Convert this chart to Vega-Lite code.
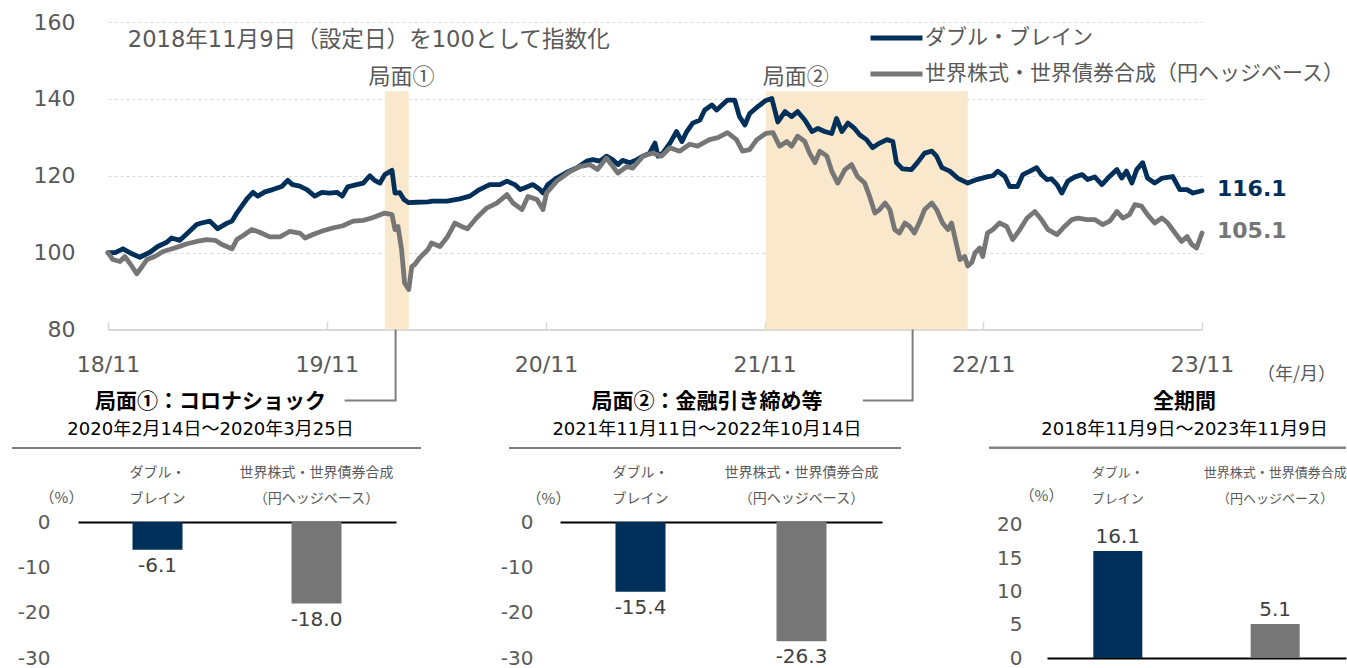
{
"$schema": "https://vega.github.io/schema/vega-lite/v6.json",
"padding": {"left": 11, "top": 11, "right": 0, "bottom": 0},
"bounds": "flush",
"spacing": 192,
"config": {
  "view": {"stroke": null},
  "axis": {"labelOverlap": false},
  "locale": {"number": {"decimal": ".", "thousands": ",", "grouping": [3], "currency": ["", ""], "minus": "-"}},
  "font": "DejaVu Sans, Noto Sans CJK JP"
},
"resolve": {"scale": {"color": "independent"}, "legend": {"color": "independent"}},
"datasets": {
  "periods": [
    {"start": "2020-02-14", "end": "2020-03-25", "name": "局面①", "lab": "2020-03-13"},
    {"start": "2021-11-11", "end": "2022-10-14", "name": "局面②", "lab": "2021-12-31"}
  ],
  "leaders": [
    {"g": 1, "o": 1, "d": "2019-12-09", "v": 61.5},
    {"g": 1, "o": 2, "d": "2020-03-03", "v": 61.5},
    {"g": 1, "o": 3, "d": "2020-03-03", "v": 80},
    {"g": 2, "o": 1, "d": "2022-04-22", "v": 61.5},
    {"g": 2, "o": 2, "d": "2022-07-14", "v": 61.5},
    {"g": 2, "o": 3, "d": "2022-07-14", "v": 80}
  ],
  "bars": [
    {"p": 1, "c": "DB", "v": -6.1}, {"p": 1, "c": "WB", "v": -18.0},
    {"p": 2, "c": "DB", "v": -15.4}, {"p": 2, "c": "WB", "v": -26.3},
    {"p": 3, "c": "DB", "v": 16.1}, {"p": 3, "c": "WB", "v": 5.1}
  ],
  "lines": [
    {"s":"DB","d":"2018-11-09","v":100.0},{"s":"DB","d":"2018-11-21","v":100.0},{"s":"DB","d":"2018-12-04","v":101.0},{"s":"DB","d":"2018-12-19","v":99.7},{"s":"DB","d":"2019-01-01","v":98.8},{"s":"DB","d":"2019-01-18","v":100.1},{"s":"DB","d":"2019-01-31","v":101.6},{"s":"DB","d":"2019-02-15","v":102.7},{"s":"DB","d":"2019-02-23","v":103.8},{"s":"DB","d":"2019-03-09","v":103.2},{"s":"DB","d":"2019-03-22","v":105.1},{"s":"DB","d":"2019-04-06","v":107.3},{"s":"DB","d":"2019-04-14","v":107.7},{"s":"DB","d":"2019-04-28","v":108.2},{"s":"DB","d":"2019-05-11","v":106.2},{"s":"DB","d":"2019-05-26","v":107.6},{"s":"DB","d":"2019-06-04","v":108.2},{"s":"DB","d":"2019-06-12","v":110.3},{"s":"DB","d":"2019-06-22","v":112.5},{"s":"DB","d":"2019-06-30","v":114.2},{"s":"DB","d":"2019-07-09","v":115.7},{"s":"DB","d":"2019-07-17","v":114.7},{"s":"DB","d":"2019-07-29","v":115.8},{"s":"DB","d":"2019-08-11","v":116.4},{"s":"DB","d":"2019-08-26","v":117.2},{"s":"DB","d":"2019-09-05","v":118.8},{"s":"DB","d":"2019-09-13","v":117.7},{"s":"DB","d":"2019-09-25","v":117.3},{"s":"DB","d":"2019-10-07","v":116.4},{"s":"DB","d":"2019-10-20","v":114.7},{"s":"DB","d":"2019-11-01","v":115.7},{"s":"DB","d":"2019-11-14","v":115.5},{"s":"DB","d":"2019-11-26","v":115.7},{"s":"DB","d":"2019-12-05","v":114.7},{"s":"DB","d":"2019-12-14","v":117.1},{"s":"DB","d":"2019-12-29","v":117.7},{"s":"DB","d":"2020-01-09","v":118.1},{"s":"DB","d":"2020-01-20","v":120.0},{"s":"DB","d":"2020-01-28","v":118.8},{"s":"DB","d":"2020-02-06","v":118.1},{"s":"DB","d":"2020-02-14","v":120.3},{"s":"DB","d":"2020-02-26","v":121.4},{"s":"DB","d":"2020-03-02","v":115.5},{"s":"DB","d":"2020-03-10","v":115.6},{"s":"DB","d":"2020-03-17","v":113.8},{"s":"DB","d":"2020-03-25","v":113.0},{"s":"DB","d":"2020-04-07","v":113.1},{"s":"DB","d":"2020-04-26","v":113.2},{"s":"DB","d":"2020-05-04","v":113.4},{"s":"DB","d":"2020-05-28","v":113.4},{"s":"DB","d":"2020-06-18","v":114.0},{"s":"DB","d":"2020-07-05","v":114.7},{"s":"DB","d":"2020-07-21","v":116.4},{"s":"DB","d":"2020-08-07","v":117.7},{"s":"DB","d":"2020-08-24","v":117.7},{"s":"DB","d":"2020-09-05","v":118.6},{"s":"DB","d":"2020-09-18","v":117.7},{"s":"DB","d":"2020-09-27","v":116.4},{"s":"DB","d":"2020-10-05","v":116.9},{"s":"DB","d":"2020-10-18","v":117.7},{"s":"DB","d":"2020-10-30","v":116.4},{"s":"DB","d":"2020-11-04","v":115.5},{"s":"DB","d":"2020-11-12","v":117.7},{"s":"DB","d":"2020-11-27","v":119.4},{"s":"DB","d":"2020-12-14","v":120.9},{"s":"DB","d":"2020-12-31","v":122.1},{"s":"DB","d":"2021-01-16","v":123.8},{"s":"DB","d":"2021-01-26","v":124.2},{"s":"DB","d":"2021-02-07","v":123.8},{"s":"DB","d":"2021-02-18","v":125.1},{"s":"DB","d":"2021-02-28","v":124.2},{"s":"DB","d":"2021-03-09","v":122.9},{"s":"DB","d":"2021-03-17","v":124.0},{"s":"DB","d":"2021-03-29","v":123.4},{"s":"DB","d":"2021-04-10","v":124.2},{"s":"DB","d":"2021-04-20","v":125.1},{"s":"DB","d":"2021-05-01","v":125.9},{"s":"DB","d":"2021-05-10","v":128.5},{"s":"DB","d":"2021-05-15","v":125.1},{"s":"DB","d":"2021-05-23","v":125.9},{"s":"DB","d":"2021-06-04","v":128.5},{"s":"DB","d":"2021-06-15","v":131.5},{"s":"DB","d":"2021-06-24","v":128.9},{"s":"DB","d":"2021-07-02","v":131.5},{"s":"DB","d":"2021-07-12","v":133.7},{"s":"DB","d":"2021-07-24","v":134.5},{"s":"DB","d":"2021-08-01","v":137.1},{"s":"DB","d":"2021-08-13","v":138.4},{"s":"DB","d":"2021-08-21","v":137.1},{"s":"DB","d":"2021-08-30","v":138.4},{"s":"DB","d":"2021-09-08","v":139.7},{"s":"DB","d":"2021-09-20","v":139.7},{"s":"DB","d":"2021-09-28","v":135.4},{"s":"DB","d":"2021-10-07","v":133.2},{"s":"DB","d":"2021-10-15","v":136.2},{"s":"DB","d":"2021-10-28","v":137.9},{"s":"DB","d":"2021-11-11","v":139.6},{"s":"DB","d":"2021-11-21","v":140.1},{"s":"DB","d":"2021-12-01","v":134.0},{"s":"DB","d":"2021-12-13","v":136.7},{"s":"DB","d":"2021-12-24","v":135.4},{"s":"DB","d":"2022-01-03","v":136.7},{"s":"DB","d":"2022-01-15","v":134.5},{"s":"DB","d":"2022-01-27","v":131.5},{"s":"DB","d":"2022-02-06","v":132.3},{"s":"DB","d":"2022-02-17","v":131.5},{"s":"DB","d":"2022-03-01","v":131.0},{"s":"DB","d":"2022-03-09","v":134.9},{"s":"DB","d":"2022-03-18","v":131.5},{"s":"DB","d":"2022-03-28","v":133.7},{"s":"DB","d":"2022-04-08","v":132.3},{"s":"DB","d":"2022-04-17","v":130.6},{"s":"DB","d":"2022-04-28","v":129.4},{"s":"DB","d":"2022-05-08","v":127.3},{"s":"DB","d":"2022-05-20","v":128.5},{"s":"DB","d":"2022-06-01","v":129.4},{"s":"DB","d":"2022-06-11","v":128.9},{"s":"DB","d":"2022-06-17","v":123.4},{"s":"DB","d":"2022-06-27","v":121.8},{"s":"DB","d":"2022-07-12","v":121.6},{"s":"DB","d":"2022-07-22","v":123.4},{"s":"DB","d":"2022-08-03","v":125.9},{"s":"DB","d":"2022-08-15","v":126.4},{"s":"DB","d":"2022-08-23","v":125.1},{"s":"DB","d":"2022-09-01","v":122.1},{"s":"DB","d":"2022-09-14","v":121.2},{"s":"DB","d":"2022-09-27","v":119.4},{"s":"DB","d":"2022-10-14","v":118.1},{"s":"DB","d":"2022-10-29","v":119.0},{"s":"DB","d":"2022-11-15","v":119.7},{"s":"DB","d":"2022-11-25","v":120.0},{"s":"DB","d":"2022-12-03","v":121.2},{"s":"DB","d":"2022-12-15","v":119.8},{"s":"DB","d":"2022-12-23","v":117.2},{"s":"DB","d":"2023-01-05","v":117.2},{"s":"DB","d":"2023-01-14","v":120.3},{"s":"DB","d":"2023-01-26","v":121.2},{"s":"DB","d":"2023-02-06","v":122.1},{"s":"DB","d":"2023-02-14","v":120.3},{"s":"DB","d":"2023-02-23","v":119.0},{"s":"DB","d":"2023-03-03","v":119.2},{"s":"DB","d":"2023-03-12","v":117.7},{"s":"DB","d":"2023-03-20","v":115.5},{"s":"DB","d":"2023-03-30","v":118.6},{"s":"DB","d":"2023-04-11","v":119.7},{"s":"DB","d":"2023-04-23","v":120.3},{"s":"DB","d":"2023-05-02","v":119.0},{"s":"DB","d":"2023-05-14","v":119.7},{"s":"DB","d":"2023-05-26","v":117.7},{"s":"DB","d":"2023-06-05","v":119.4},{"s":"DB","d":"2023-06-20","v":121.6},{"s":"DB","d":"2023-06-28","v":119.4},{"s":"DB","d":"2023-07-06","v":121.2},{"s":"DB","d":"2023-07-15","v":118.1},{"s":"DB","d":"2023-07-23","v":121.6},{"s":"DB","d":"2023-08-02","v":123.4},{"s":"DB","d":"2023-08-10","v":119.4},{"s":"DB","d":"2023-08-22","v":118.1},{"s":"DB","d":"2023-09-04","v":119.4},{"s":"DB","d":"2023-09-21","v":119.8},{"s":"DB","d":"2023-10-03","v":116.4},{"s":"DB","d":"2023-10-15","v":116.4},{"s":"DB","d":"2023-10-25","v":115.5},{"s":"DB","d":"2023-11-09","v":116.1},
    {"s":"WB","d":"2018-11-09","v":100.0},{"s":"WB","d":"2018-11-17","v":98.2},{"s":"WB","d":"2018-11-29","v":97.7},{"s":"WB","d":"2018-12-07","v":99.0},{"s":"WB","d":"2018-12-19","v":96.4},{"s":"WB","d":"2018-12-27","v":94.5},{"s":"WB","d":"2019-01-05","v":96.4},{"s":"WB","d":"2019-01-13","v":98.2},{"s":"WB","d":"2019-01-26","v":99.0},{"s":"WB","d":"2019-02-09","v":100.3},{"s":"WB","d":"2019-02-20","v":100.8},{"s":"WB","d":"2019-03-06","v":101.5},{"s":"WB","d":"2019-03-21","v":102.3},{"s":"WB","d":"2019-04-06","v":102.9},{"s":"WB","d":"2019-04-23","v":103.4},{"s":"WB","d":"2019-05-07","v":103.2},{"s":"WB","d":"2019-05-18","v":102.1},{"s":"WB","d":"2019-06-04","v":101.0},{"s":"WB","d":"2019-06-12","v":103.4},{"s":"WB","d":"2019-06-22","v":104.4},{"s":"WB","d":"2019-07-07","v":106.0},{"s":"WB","d":"2019-07-20","v":105.3},{"s":"WB","d":"2019-08-06","v":104.1},{"s":"WB","d":"2019-08-23","v":104.1},{"s":"WB","d":"2019-09-08","v":105.5},{"s":"WB","d":"2019-09-25","v":105.1},{"s":"WB","d":"2019-10-04","v":103.8},{"s":"WB","d":"2019-10-17","v":104.7},{"s":"WB","d":"2019-11-03","v":105.7},{"s":"WB","d":"2019-11-19","v":106.4},{"s":"WB","d":"2019-12-06","v":107.0},{"s":"WB","d":"2019-12-23","v":108.2},{"s":"WB","d":"2020-01-09","v":108.4},{"s":"WB","d":"2020-01-23","v":109.0},{"s":"WB","d":"2020-02-02","v":109.6},{"s":"WB","d":"2020-02-14","v":110.3},{"s":"WB","d":"2020-02-26","v":109.9},{"s":"WB","d":"2020-03-02","v":106.0},{"s":"WB","d":"2020-03-07","v":106.8},{"s":"WB","d":"2020-03-13","v":100.8},{"s":"WB","d":"2020-03-18","v":92.1},{"s":"WB","d":"2020-03-25","v":90.4},{"s":"WB","d":"2020-03-30","v":96.4},{"s":"WB","d":"2020-04-04","v":96.9},{"s":"WB","d":"2020-04-12","v":98.6},{"s":"WB","d":"2020-04-26","v":100.8},{"s":"WB","d":"2020-05-02","v":102.5},{"s":"WB","d":"2020-05-16","v":101.6},{"s":"WB","d":"2020-05-29","v":104.2},{"s":"WB","d":"2020-06-10","v":107.7},{"s":"WB","d":"2020-06-21","v":106.8},{"s":"WB","d":"2020-07-01","v":106.2},{"s":"WB","d":"2020-07-16","v":109.0},{"s":"WB","d":"2020-08-02","v":111.6},{"s":"WB","d":"2020-08-19","v":112.9},{"s":"WB","d":"2020-09-05","v":115.1},{"s":"WB","d":"2020-09-15","v":112.9},{"s":"WB","d":"2020-09-30","v":111.2},{"s":"WB","d":"2020-10-10","v":114.6},{"s":"WB","d":"2020-10-25","v":113.8},{"s":"WB","d":"2020-11-04","v":111.2},{"s":"WB","d":"2020-11-10","v":115.5},{"s":"WB","d":"2020-11-27","v":118.6},{"s":"WB","d":"2020-12-19","v":121.1},{"s":"WB","d":"2021-01-04","v":122.4},{"s":"WB","d":"2021-01-21","v":122.9},{"s":"WB","d":"2021-02-03","v":121.6},{"s":"WB","d":"2021-02-18","v":124.6},{"s":"WB","d":"2021-03-09","v":120.7},{"s":"WB","d":"2021-03-24","v":122.4},{"s":"WB","d":"2021-04-03","v":122.0},{"s":"WB","d":"2021-04-20","v":125.1},{"s":"WB","d":"2021-05-06","v":125.9},{"s":"WB","d":"2021-05-21","v":125.1},{"s":"WB","d":"2021-06-04","v":127.3},{"s":"WB","d":"2021-06-20","v":126.4},{"s":"WB","d":"2021-07-07","v":128.2},{"s":"WB","d":"2021-07-20","v":127.7},{"s":"WB","d":"2021-08-09","v":129.4},{"s":"WB","d":"2021-08-23","v":129.9},{"s":"WB","d":"2021-09-08","v":131.2},{"s":"WB","d":"2021-09-23","v":129.4},{"s":"WB","d":"2021-10-03","v":126.4},{"s":"WB","d":"2021-10-15","v":126.8},{"s":"WB","d":"2021-10-27","v":129.4},{"s":"WB","d":"2021-11-11","v":131.0},{"s":"WB","d":"2021-11-23","v":131.2},{"s":"WB","d":"2021-12-04","v":127.7},{"s":"WB","d":"2021-12-16","v":128.9},{"s":"WB","d":"2021-12-24","v":127.7},{"s":"WB","d":"2022-01-03","v":130.3},{"s":"WB","d":"2022-01-15","v":128.9},{"s":"WB","d":"2022-01-23","v":125.9},{"s":"WB","d":"2022-02-01","v":123.4},{"s":"WB","d":"2022-02-09","v":126.4},{"s":"WB","d":"2022-02-21","v":125.1},{"s":"WB","d":"2022-03-01","v":121.2},{"s":"WB","d":"2022-03-11","v":118.1},{"s":"WB","d":"2022-03-23","v":121.6},{"s":"WB","d":"2022-04-03","v":122.9},{"s":"WB","d":"2022-04-13","v":119.8},{"s":"WB","d":"2022-04-25","v":118.1},{"s":"WB","d":"2022-05-03","v":114.7},{"s":"WB","d":"2022-05-12","v":110.3},{"s":"WB","d":"2022-05-20","v":111.2},{"s":"WB","d":"2022-05-29","v":112.9},{"s":"WB","d":"2022-06-06","v":111.2},{"s":"WB","d":"2022-06-14","v":106.0},{"s":"WB","d":"2022-06-22","v":105.1},{"s":"WB","d":"2022-07-01","v":107.7},{"s":"WB","d":"2022-07-09","v":106.8},{"s":"WB","d":"2022-07-17","v":105.1},{"s":"WB","d":"2022-07-26","v":108.1},{"s":"WB","d":"2022-08-03","v":111.2},{"s":"WB","d":"2022-08-15","v":112.9},{"s":"WB","d":"2022-08-23","v":111.2},{"s":"WB","d":"2022-09-02","v":107.7},{"s":"WB","d":"2022-09-11","v":106.0},{"s":"WB","d":"2022-09-17","v":107.7},{"s":"WB","d":"2022-09-26","v":101.6},{"s":"WB","d":"2022-10-01","v":98.2},{"s":"WB","d":"2022-10-09","v":99.0},{"s":"WB","d":"2022-10-14","v":96.5},{"s":"WB","d":"2022-10-21","v":97.5},{"s":"WB","d":"2022-10-26","v":99.9},{"s":"WB","d":"2022-11-03","v":101.2},{"s":"WB","d":"2022-11-08","v":99.0},{"s":"WB","d":"2022-11-16","v":105.1},{"s":"WB","d":"2022-11-25","v":106.0},{"s":"WB","d":"2022-12-06","v":107.7},{"s":"WB","d":"2022-12-18","v":106.8},{"s":"WB","d":"2022-12-28","v":103.4},{"s":"WB","d":"2023-01-09","v":106.0},{"s":"WB","d":"2023-01-21","v":109.0},{"s":"WB","d":"2023-02-03","v":110.7},{"s":"WB","d":"2023-02-14","v":108.6},{"s":"WB","d":"2023-02-25","v":106.0},{"s":"WB","d":"2023-03-12","v":104.7},{"s":"WB","d":"2023-03-22","v":106.4},{"s":"WB","d":"2023-04-06","v":108.6},{"s":"WB","d":"2023-04-16","v":109.0},{"s":"WB","d":"2023-05-01","v":108.6},{"s":"WB","d":"2023-05-14","v":108.6},{"s":"WB","d":"2023-05-27","v":107.3},{"s":"WB","d":"2023-06-08","v":108.2},{"s":"WB","d":"2023-06-20","v":110.7},{"s":"WB","d":"2023-06-30","v":109.0},{"s":"WB","d":"2023-07-11","v":109.9},{"s":"WB","d":"2023-07-20","v":112.5},{"s":"WB","d":"2023-07-31","v":112.1},{"s":"WB","d":"2023-08-10","v":109.9},{"s":"WB","d":"2023-08-22","v":107.7},{"s":"WB","d":"2023-09-03","v":109.0},{"s":"WB","d":"2023-09-13","v":107.7},{"s":"WB","d":"2023-09-25","v":105.1},{"s":"WB","d":"2023-10-06","v":102.9},{"s":"WB","d":"2023-10-15","v":104.2},{"s":"WB","d":"2023-10-23","v":102.1},{"s":"WB","d":"2023-10-31","v":101.2},{"s":"WB","d":"2023-11-09","v":105.1}
  ]
},
"vconcat": [
  {
    "width": 1190,
    "height": 307.5,
    "layer": [
      {
        "data": {"name": "periods"},
        "mark": {"type": "rect", "color": "#F9E8CC"},
        "encoding": {
          "x": {"field": "start", "type": "temporal",
                "scale": {"domain": [{"year": 2018, "month": 11, "date": 9}, {"year": 2023, "month": 11, "date": 9}], "range": [96, 1190]},
                "axis": {"title": "（年/月）", "values": [{"year": 2018, "month": 11, "date": 9}, {"year": 2019, "month": 11, "date": 9}, {"year": 2020, "month": 11, "date": 9}, {"year": 2021, "month": 11, "date": 9}, {"year": 2022, "month": 11, "date": 9}, {"year": 2023, "month": 11, "date": 9}],
                         "tickCount": 10, "format": "%y/%m", "labelFlush": false, "labelOverlap": false, "grid": false,
                         "domainColor": "#D9D9D9", "domainWidth": 2, "tickColor": "#D9D9D9", "tickWidth": 1.5, "tickSize": -8,
                         "labelPadding": 33, "labelFont": "DejaVu Sans", "labelFontSize": 22, "labelColor": "#595959",
                         "titleX": 1284, "titleY": 45, "titleAlign": "center", "titleBaseline": "middle", "titleAnchor": null,
                         "titleFont": "Noto Sans CJK JP", "titleFontSize": 18, "titleFontWeight": "normal", "titleColor": "#595959"}},
          "x2": {"field": "end"},
          "y": {"datum": 80, "type": "quantitative"},
          "y2": {"datum": 142}
        }
      },
      {
        "data": {"name": "leaders"},
        "mark": {"type": "line", "color": "#7F7F7F", "strokeWidth": 2},
        "encoding": {
          "x": {"field": "d", "type": "temporal"},
          "y": {"field": "v", "type": "quantitative"},
          "detail": {"field": "g", "type": "nominal"},
          "order": {"field": "o", "type": "quantitative"}
        }
      },
      {
        "data": {"name": "periods"},
        "mark": {"type": "text", "font": "Noto Sans CJK JP", "fontSize": 22, "color": "#595959", "baseline": "middle", "align": "center"},
        "encoding": {
          "x": {"field": "lab", "type": "temporal"},
          "y": {"datum": 145.7},
          "text": {"field": "name"}
        }
      },
      {
        "data": {"values": [{}]},
        "mark": {"type": "text", "text": "2018年11月9日（設定日）を100として指数化", "font": "DejaVu Sans, Noto Sans CJK JP", "fontSize": 22.6, "color": "#595959", "align": "left", "baseline": "middle"},
        "encoding": {
          "x": {"datum": {"year": 2018, "month": 12, "date": 12}, "type": "temporal"},
          "y": {"datum": 155.3}
        }
      },
      {
        "data": {"name": "lines"},
        "mark": {"type": "line", "strokeWidth": 4.8, "strokeJoin": "round", "strokeCap": "round"},
        "encoding": {
          "x": {"field": "d", "type": "temporal"},
          "y": {"field": "v", "type": "quantitative",
                "scale": {"domain": [80, 160], "nice": false, "zero": false},
                "axis": {"title": null, "values": [80, 100, 120, 140, 160], "tickCount": 10, "domain": false, "ticks": false, "offset": -63, "labelPadding": 0,
                         "labelFont": "DejaVu Sans", "labelFontSize": 22, "labelColor": "#595959",
                         "grid": true, "gridColor": "#D9D9D9", "gridDash": [3, 3], "gridWidth": 1}},
          "color": {"field": "s", "type": "nominal",
                    "scale": {"domain": ["DB", "WB"], "range": ["#00305A", "#767676"]},
                    "legend": {"orient": "none", "legendX": 856, "legendY": 6, "title": null, "direction": "vertical",
                               "symbolType": "stroke", "symbolSize": 2704, "symbolStrokeWidth": 5, "clipHeight": 20,
                               "labelExpr": "datum.value == 'DB' ? 'ダブル・ブレイン' : '世界株式・世界債券合成（円ヘッジベース）'",
                               "labelFont": "Noto Sans CJK JP", "labelFontSize": 21, "labelColor": "#595959", "labelOffset": 0,
                               "labelLimit": 600, "rowPadding": 15, "padding": 0}}
        }
      },
      {
        "data": {"name": "lines"},
        "mark": {"type": "text", "align": "left", "baseline": "middle", "dx": 15, "dy": -2, "font": "DejaVu Sans", "fontSize": 22, "fontWeight": "bold"},
        "encoding": {
          "x": {"field": "d", "type": "temporal", "aggregate": "max"},
          "y": {"field": "v", "type": "quantitative", "aggregate": {"argmax": "d"}},
          "text": {"field": "v", "type": "quantitative", "aggregate": {"argmax": "d"}, "format": ".1f"},
          "color": {"field": "s", "type": "nominal"}
        }
      }
    ]
  },
  {
    "hconcat": [
      {
        "width": 409, "height": 136,
        "title": {"text": "局面①：コロナショック", "subtitle": "2020年2月14日～2020年3月25日", "anchor": "middle", "frame": "group", "dx": -6, "offset": 8,
                  "font": "Noto Sans CJK JP", "fontSize": 21, "fontWeight": "bold", "color": "#000000",
                  "subtitleFont": "DejaVu Sans, Noto Sans CJK JP", "subtitleFontSize": 18, "subtitleColor": "#000000", "subtitlePadding": 9},
        "data": {"name": "bars"},
        "transform": [{"filter": {"field": "p", "equal": 1}}],
        "layer": [
          {"mark": {"type": "rule", "color": "#7F7F7F", "strokeWidth": 2}, "encoding": {"y": {"datum": 16.3}}},
          {"mark": {"type": "bar", "size": 50},
           "encoding": {
             "x": {"field": "c", "type": "nominal", "sort": ["DB", "WB"],
                   "scale": {"domain": ["DB", "WB"], "range": [66, 384], "paddingInner": 0, "paddingOuter": 0},
                   "axis": {"orient": "top", "title": null, "labelAngle": 0, "ticks": false, "domain": true, "domainColor": "#000000", "domainWidth": 2,
                            "labelExpr": "datum.value == 'DB' ? ['ダブル・', 'ブレイン'] : ['世界株式・世界債券合成', '（円ヘッジベース）']",
                            "labelFont": "Noto Sans CJK JP", "labelFontSize": 14, "labelColor": "#595959", "labelPadding": 43, "labelLineHeight": 26}},
             "y": {"field": "v", "type": "quantitative", "scale": {"domain": [-30, 0], "nice": false, "zero": false},
                   "axis": {"values": [0, -10, -20, -30], "tickCount": 10, "labelOverlap": false, "title": "（%）", "titleAngle": 0, "titleX": 11, "titleY": -25, "titleAlign": "center", "titleBaseline": "middle",
                            "titleFont": "Noto Sans CJK JP", "titleFontSize": 15, "titleFontWeight": "normal", "titleColor": "#595959",
                            "domain": false, "ticks": false, "grid": false, "offset": -38, "labelPadding": 0,
                            "labelFont": "DejaVu Sans", "labelFontSize": 20, "labelColor": "#595959"}},
             "color": {"field": "c", "type": "nominal", "scale": {"domain": ["DB", "WB"], "range": ["#00305A", "#767676"]}, "legend": null}
           }},
          {"mark": {"type": "text", "dy": 16, "baseline": "middle", "font": "DejaVu Sans", "fontSize": 20, "color": "#404040"},
           "encoding": {
             "x": {"field": "c", "type": "nominal"},
             "y": {"field": "v", "type": "quantitative"},
             "text": {"field": "v", "type": "quantitative", "format": ".1f"}
           }}
        ]
      },
      {
        "width": 392, "height": 136,
        "title": {"text": "局面②：金融引き締め等", "subtitle": "2021年11月11日～2022年10月14日", "anchor": "middle", "frame": "group", "dx": 2, "offset": 8,
                  "font": "Noto Sans CJK JP", "fontSize": 21, "fontWeight": "bold", "color": "#000000",
                  "subtitleFont": "DejaVu Sans, Noto Sans CJK JP", "subtitleFontSize": 18, "subtitleColor": "#000000", "subtitlePadding": 9},
        "data": {"name": "bars"},
        "transform": [{"filter": {"field": "p", "equal": 2}}],
        "layer": [
          {"mark": {"type": "rule", "color": "#7F7F7F", "strokeWidth": 2}, "encoding": {"y": {"datum": 16.3}}},
          {"mark": {"type": "bar", "size": 50},
           "encoding": {
             "x": {"field": "c", "type": "nominal", "sort": ["DB", "WB"],
                   "scale": {"domain": ["DB", "WB"], "range": [51, 373], "paddingInner": 0, "paddingOuter": 0},
                   "axis": {"orient": "top", "title": null, "labelAngle": 0, "ticks": false, "domain": true, "domainColor": "#000000", "domainWidth": 2,
                            "labelExpr": "datum.value == 'DB' ? ['ダブル・', 'ブレイン'] : ['世界株式・世界債券合成', '（円ヘッジベース）']",
                            "labelFont": "Noto Sans CJK JP", "labelFontSize": 14, "labelColor": "#595959", "labelPadding": 43, "labelLineHeight": 26}},
             "y": {"field": "v", "type": "quantitative", "scale": {"domain": [-30, 0], "nice": false, "zero": false},
                   "axis": {"values": [0, -10, -20, -30], "tickCount": 10, "labelOverlap": false, "title": "（%）", "titleAngle": 0, "titleX": 15, "titleY": -24, "titleAlign": "center", "titleBaseline": "middle",
                            "titleFont": "Noto Sans CJK JP", "titleFontSize": 15, "titleFontWeight": "normal", "titleColor": "#595959",
                            "domain": false, "ticks": false, "grid": false, "offset": -24, "labelPadding": 0,
                            "labelFont": "DejaVu Sans", "labelFontSize": 20, "labelColor": "#595959"}},
             "color": {"field": "c", "type": "nominal", "scale": {"domain": ["DB", "WB"], "range": ["#00305A", "#767676"]}, "legend": null}
           }},
          {"mark": {"type": "text", "dy": 16, "baseline": "middle", "font": "DejaVu Sans", "fontSize": 20, "color": "#404040"},
           "encoding": {
             "x": {"field": "c", "type": "nominal"},
             "y": {"field": "v", "type": "quantitative"},
             "text": {"field": "v", "type": "quantitative", "format": ".1f"}
           }}
        ]
      },
      {
        "width": 357, "height": 136,
        "title": {"text": "全期間", "subtitle": "2018年11月9日～2023年11月9日", "anchor": "middle", "frame": "group", "dx": 17, "offset": 8,
                  "font": "Noto Sans CJK JP", "fontSize": 21, "fontWeight": "bold", "color": "#000000",
                  "subtitleFont": "DejaVu Sans, Noto Sans CJK JP", "subtitleFontSize": 18, "subtitleColor": "#000000", "subtitlePadding": 9},
        "data": {"name": "bars"},
        "transform": [{"filter": {"field": "p", "equal": 3}}],
        "resolve": {"axis": {"x": "independent"}},
        "layer": [
          {"mark": {"type": "rule", "color": "#7F7F7F", "strokeWidth": 2}, "encoding": {"y": {"datum": 31.6}}},
          {"mark": {"type": "bar", "size": 49},
           "encoding": {
             "x": {"field": "c", "type": "nominal", "sort": ["DB", "WB"],
                   "scale": {"domain": ["DB", "WB"], "range": [58, 357], "paddingInner": 0.1, "paddingOuter": 0},
                   "axis": {"orient": "bottom", "title": null, "labels": false, "ticks": false, "domain": true, "domainColor": "#000000", "domainWidth": 2}},
             "y": {"field": "v", "type": "quantitative", "scale": {"domain": [0, 20.45], "nice": false, "zero": false},
                   "axis": {"values": [0, 5, 10, 15, 20], "tickCount": 10, "labelOverlap": false, "title": "（%）", "titleAngle": 0, "titleX": 19, "titleY": -27, "titleAlign": "center", "titleBaseline": "middle",
                            "titleFont": "Noto Sans CJK JP", "titleFontSize": 15, "titleFontWeight": "normal", "titleColor": "#595959",
                            "domain": false, "ticks": false, "grid": false, "offset": -33, "labelPadding": 0,
                            "labelFont": "DejaVu Sans", "labelFontSize": 20, "labelColor": "#595959"}},
             "color": {"field": "c", "type": "nominal", "scale": {"domain": ["DB", "WB"], "range": ["#00305A", "#767676"]}, "legend": null}
           }},
          {"mark": {"type": "text", "dy": -14, "baseline": "middle", "font": "DejaVu Sans", "fontSize": 20, "color": "#404040"},
           "encoding": {
             "x": {"field": "c", "type": "nominal",
                   "axis": {"orient": "top", "title": null, "labelAngle": 0, "ticks": false, "domain": false,
                            "labelExpr": "datum.value == 'DB' ? ['ダブル・', 'ブレイン'] : ['世界株式・世界債券合成', '（円ヘッジベース）']",
                            "labelFont": "Noto Sans CJK JP", "labelFontSize": 13, "labelColor": "#595959", "labelPadding": 43, "labelLineHeight": 26}},
             "y": {"field": "v", "type": "quantitative"},
             "text": {"field": "v", "type": "quantitative", "format": ".1f"}
           }}
        ]
      }
    ],
    "spacing": 88,
    "bounds": "flush",
    "resolve": {"scale": {"color": "independent"}, "legend": {"color": "independent"}}
  }
]
}
